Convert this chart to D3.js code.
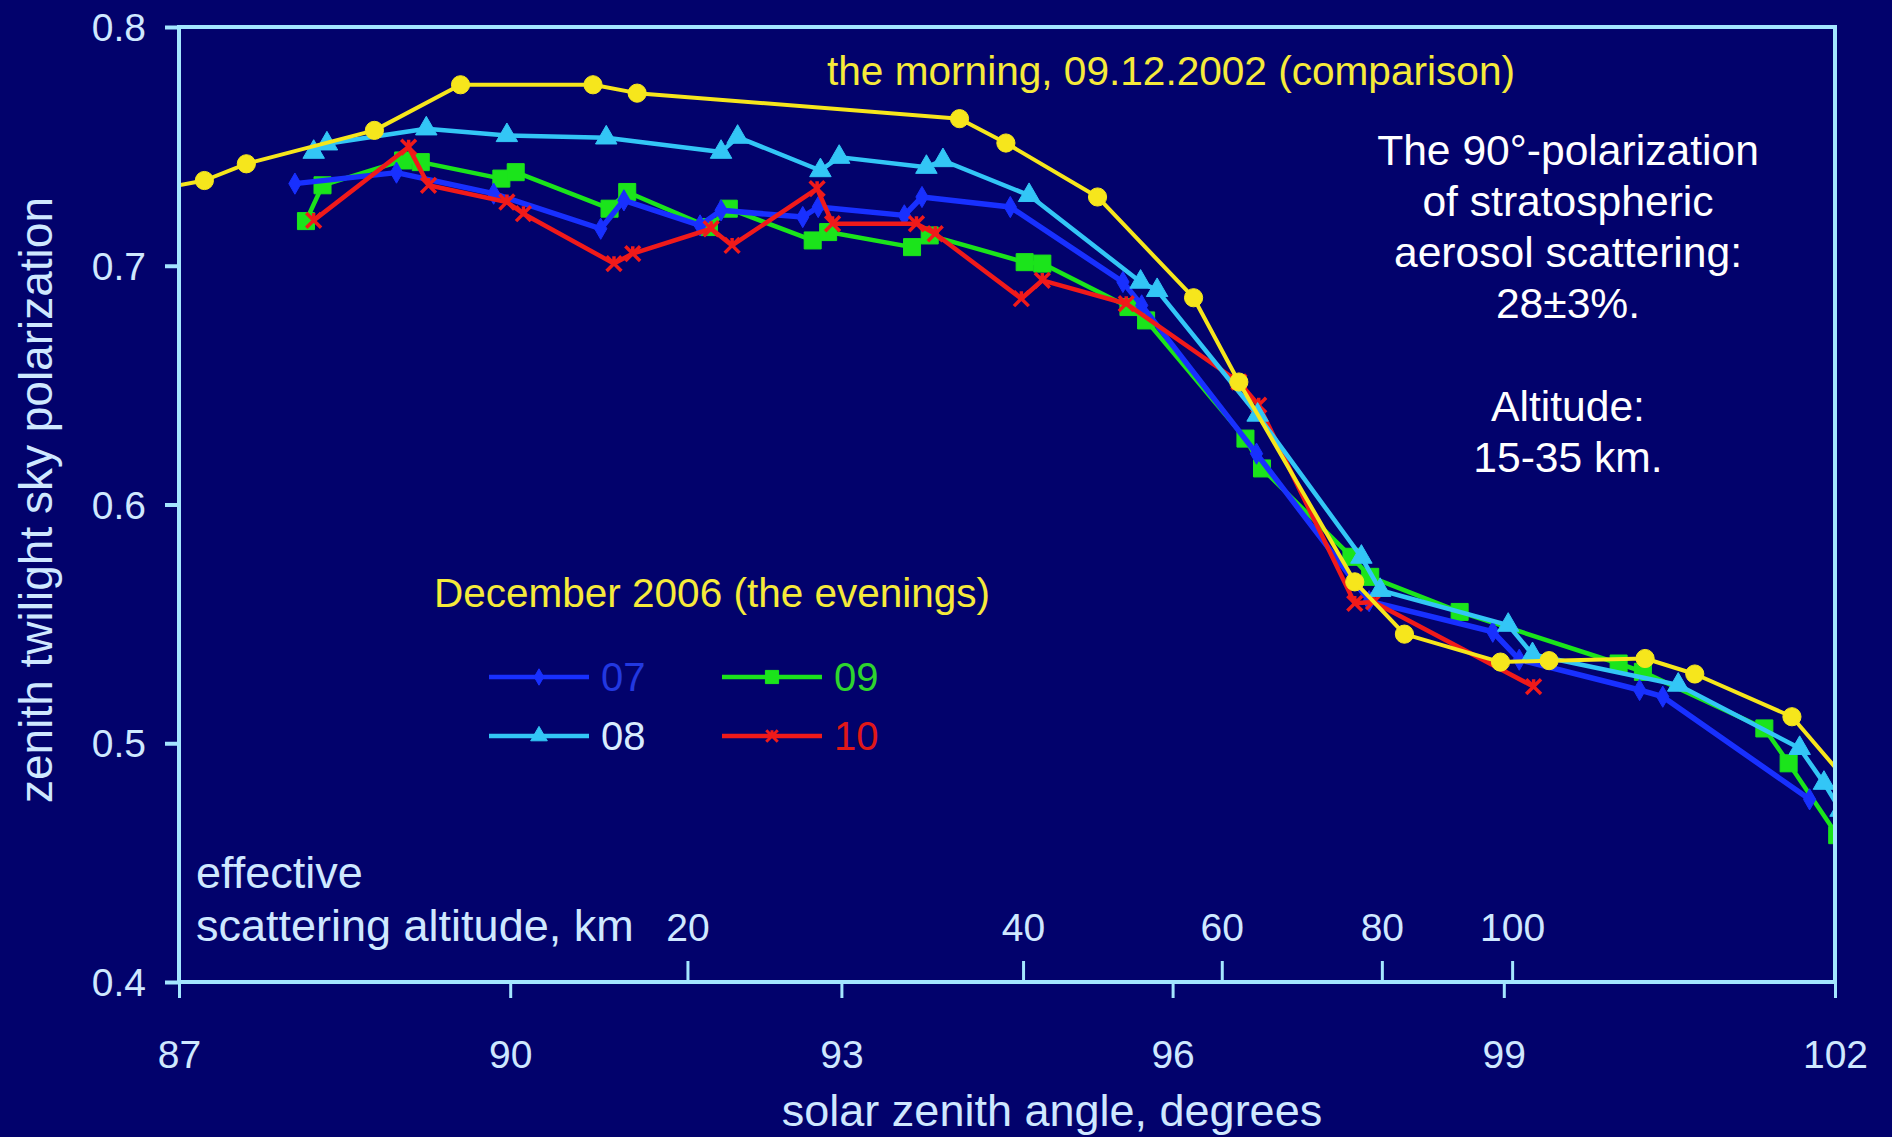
<!DOCTYPE html>
<html>
  <head>
    <meta charset="UTF-8">
    <script type="text/javascript" src="https://cdn.jsdelivr.net/npm/d3@7"></script>
    <style>
      body { margin: 0; background: #02026c; }
      svg { display: block; }
      text { font-family: "Liberation Sans", Arial, sans-serif; }
    </style>
  </head>
  <body>
    <div id="chart"></div>
    <script>
// morning 09.12.2002 (comparison), yellow
var mornX = [86.85, 87.23, 87.61, 88.77, 89.55, 90.75, 91.15, 94.07, 94.49, 95.32, 96.19, 96.60,
             97.65, 98.10, 98.97, 99.41, 100.28, 100.73, 101.61, 102.1];
var mornY = [0.7324, 0.7357, 0.7427, 0.7567, 0.7758, 0.7758, 0.7723, 0.7616, 0.7514, 0.7288, 0.6866, 0.6513,
             0.5676, 0.5457, 0.5340, 0.5346, 0.5355, 0.5290, 0.5111, 0.4846];

// December 2006 evenings
var ev07X = [88.05, 88.97, 89.85, 90.82, 91.03, 91.72, 91.91, 92.65, 92.79, 93.57, 93.73, 94.53,
             95.55, 95.72, 96.76, 97.78, 98.90, 99.14, 100.23, 100.44, 101.77];
var ev07Y = [0.7344, 0.7390, 0.7302, 0.7155, 0.7274, 0.7169, 0.7232, 0.7204, 0.7246, 0.7211, 0.7288, 0.7246,
             0.6932, 0.6834, 0.6213, 0.5595, 0.5467, 0.5350, 0.5223, 0.5195, 0.4765];

var ev08X = [88.22, 88.34, 89.24, 89.97, 90.87, 91.91, 92.06, 92.81, 92.98, 93.77, 93.92, 94.70,
             95.71, 95.86, 96.77, 97.71, 97.88, 99.04, 99.26, 100.58, 101.68, 101.90, 102.05];
var ev08Y = [0.7476, 0.7511, 0.7574, 0.7546, 0.7536, 0.7476, 0.7539, 0.7399, 0.7455, 0.7413, 0.7441, 0.7295,
             0.6932, 0.6897, 0.6375, 0.5780, 0.5641, 0.5495, 0.5372, 0.5244, 0.4979, 0.4833, 0.4720];

var ev09X = [88.15, 88.30, 89.03, 89.19, 89.92, 90.05, 90.90, 91.06, 91.80, 91.98, 92.74, 92.88,
             93.64, 93.80, 94.66, 94.82, 95.60, 95.76, 96.66, 96.81, 97.62, 97.79, 98.60, 100.04,
             100.26, 101.36, 101.58, 102.02];
var ev09Y = [0.7187, 0.7337, 0.7441, 0.7434, 0.7365, 0.7392, 0.7239, 0.7309, 0.7162, 0.7239, 0.7106, 0.7141,
             0.7078, 0.7127, 0.7015, 0.7009, 0.6827, 0.6771, 0.6276, 0.6151, 0.5781, 0.5697, 0.5550, 0.5334,
             0.5299, 0.5062, 0.4916, 0.4615];

var ev10X = [88.22, 89.08, 89.26, 89.97, 90.12, 90.94, 91.11, 91.82, 92.01, 92.78, 92.92, 93.68,
             93.85, 94.63, 94.82, 95.58, 96.60, 96.78, 97.65, 97.82, 99.27];
var ev10Y = [0.7190, 0.7497, 0.7337, 0.7267, 0.7218, 0.7009, 0.7051, 0.7155, 0.7085, 0.7323, 0.7176, 0.7176,
             0.7134, 0.6862, 0.6939, 0.6841, 0.6513, 0.6416, 0.5586, 0.5592, 0.5237];

// axes
var xTicks = [87, 90, 93, 96, 99, 102];
var yTicks = [0.4, 0.5, 0.6, 0.7, 0.8];
// effective scattering altitude (km) and where it falls on the angle axis
var altKm = [20, 40, 60, 80, 100];
var altAngle = [91.61, 94.65, 96.45, 97.90, 99.08];

var noteLines = ["The 90\u00b0-polarization", "of stratospheric", "aerosol scattering:", "28\u00b13%.", "", "Altitude:", "15-35 km."];

var width = 1892, height = 1137;
var margin = {top: 27, right: 57, bottom: 155, left: 179};
var w = width - margin.left - margin.right;
var h = height - margin.top - margin.bottom;
var axisColor = "#a4e6ff";
var textColor = "#cfe8ff";

var svg = d3.select("#chart").append("svg")
    .attr("width", width)
    .attr("height", height);

svg.append("rect")
    .attr("width", width)
    .attr("height", height)
    .attr("fill", "#02026c");

var x = d3.scaleLinear().domain([87, 102]).range([0, w]);
var y = d3.scaleLinear().domain([0.4, 0.8]).range([h, 0]);

var g = svg.append("g").attr("transform", "translate(" + margin.left + "," + margin.top + ")");

g.append("clipPath").attr("id", "plotclip")
  .append("rect")
    .attr("width", w)
    .attr("height", h);

// x-shaped marker for the 10th
var xMark = {
  draw: function (ctx, size) {
    var r = Math.sqrt(size) / 2;
    ctx.moveTo(-r, -r); ctx.lineTo(r, r);
    ctx.moveTo(r, -r); ctx.lineTo(-r, r);
    ctx.moveTo(0, -r); ctx.lineTo(0, -r * 0.2);
  }
};

var series = [
  {name: "09", xs: ev09X, ys: ev09Y, color: "#1be41b", sym: d3.symbolSquare, size: 290, width: 4.5, fillMark: true, text: "#2ed42e"},
  {name: "07", xs: ev07X, ys: ev07Y, color: "#1830ff", sym: d3.symbolDiamond, size: 130, width: 5.5, fillMark: true, text: "#2238e0"},
  {name: "10", xs: ev10X, ys: ev10Y, color: "#f01a1a", sym: xMark, size: 220, width: 4.5, fillMark: false, text: "#e01818"},
  {name: "08", xs: ev08X, ys: ev08Y, color: "#33c6f6", sym: d3.symbolTriangle, size: 200, width: 4.5, fillMark: true, text: "#d8ecff"},
  {name: "morning", xs: mornX, ys: mornY, color: "#f6e61c", sym: d3.symbolCircle, size: 260, width: 4, fillMark: true}
];

var line = d3.line()
    .x(function (d) { return x(d[0]); })
    .y(function (d) { return y(d[1]); });

var plot = g.append("g").attr("clip-path", "url(#plotclip)");

series.forEach(function (s) {
  var pts = s.xs.map(function (v, i) { return [v, s.ys[i]]; });
  plot.append("path")
      .datum(pts)
      .attr("fill", "none")
      .attr("stroke", s.color)
      .attr("stroke-width", s.width)
      .attr("stroke-linejoin", "round")
      .attr("d", line);
  plot.selectAll(null)
      .data(pts)
    .enter().append("path")
      .attr("transform", function (d) { return "translate(" + x(d[0]) + "," + y(d[1]) + ")"; })
      .attr("d", d3.symbol().type(s.sym).size(s.size))
      .attr("fill", s.fillMark ? s.color : "none")
      .attr("stroke", s.color)
      .attr("stroke-width", s.fillMark ? 1 : 3.5);
});

// frame
g.append("rect")
    .attr("width", w)
    .attr("height", h)
    .attr("fill", "none")
    .attr("stroke", axisColor)
    .attr("stroke-width", 4);

// left axis
var yAxis = g.append("g")
    .call(d3.axisLeft(y).tickValues(yTicks).tickFormat(d3.format(".1f")).tickSize(14).tickPadding(19));
yAxis.select(".domain").remove();
yAxis.selectAll("line").attr("stroke", axisColor).attr("stroke-width", 4);
yAxis.selectAll("text").attr("fill", textColor).attr("font-size", "39px").attr("dy", "0.35em");

// bottom axis
var xAxis = g.append("g")
    .attr("transform", "translate(0," + h + ")")
    .call(d3.axisBottom(x).tickValues(xTicks).tickSize(16).tickPadding(42));
xAxis.select(".domain").remove();
xAxis.selectAll("line").attr("stroke", axisColor).attr("stroke-width", 3);
xAxis.selectAll("text").attr("fill", textColor).attr("font-size", "39px");

// altitude ticks, pointing up from the bottom axis
var altAxis = g.append("g").attr("transform", "translate(0," + h + ")");
altAxis.selectAll("line")
    .data(altAngle)
  .enter().append("line")
    .attr("x1", function (d) { return x(d); })
    .attr("x2", function (d) { return x(d); })
    .attr("y1", 0)
    .attr("y2", -21)
    .attr("stroke", axisColor)
    .attr("stroke-width", 3);
altAxis.selectAll("text")
    .data(altAngle)
  .enter().append("text")
    .attr("x", function (d) { return x(d); })
    .attr("y", -41)
    .attr("text-anchor", "middle")
    .attr("fill", textColor)
    .attr("font-size", "39px")
    .text(function (d, i) { return altKm[i]; });

g.append("text")
    .attr("x", 17)
    .attr("y", h - 94)
    .attr("fill", textColor)
    .attr("font-size", "45px")
    .text("effective");
g.append("text")
    .attr("x", 17)
    .attr("y", h - 41)
    .attr("fill", textColor)
    .attr("font-size", "45px")
    .text("scattering altitude, km");

// axis titles
svg.append("text")
    .attr("x", 1052)
    .attr("y", 1126)
    .attr("text-anchor", "middle")
    .attr("fill", textColor)
    .attr("font-size", "45px")
    .text("solar zenith angle, degrees");

svg.append("text")
    .attr("transform", "translate(52,500) rotate(-90)")
    .attr("text-anchor", "middle")
    .attr("fill", textColor)
    .attr("font-size", "46px")
    .text("zenith twilight sky polarization");

// titles inside the plot
svg.append("text")
    .attr("x", 827)
    .attr("y", 85)
    .attr("fill", "#f6ea3a")
    .attr("font-size", "40.6px")
    .text("the morning, 09.12.2002 (comparison)");

svg.append("text")
    .attr("x", 434)
    .attr("y", 607)
    .attr("fill", "#f6ea3a")
    .attr("font-size", "40.5px")
    .text("December 2006 (the evenings)");

// legend
var legendPos = {"07": [489, 677], "09": [722, 677], "08": [489, 736], "10": [722, 736]};
series.forEach(function (s) {
  if (!legendPos[s.name]) return;
  var p = legendPos[s.name];
  var lg = svg.append("g").attr("transform", "translate(" + p[0] + "," + p[1] + ")");
  lg.append("line")
      .attr("x1", 0).attr("x2", 100)
      .attr("stroke", s.color)
      .attr("stroke-width", 4.5);
  lg.append("path")
      .attr("transform", "translate(50,0)")
      .attr("d", d3.symbol().type(s.sym).size(s.size * 0.6))
      .attr("fill", s.fillMark ? s.color : "none")
      .attr("stroke", s.color)
      .attr("stroke-width", s.fillMark ? 1 : 3);
  lg.append("text")
      .attr("x", 112)
      .attr("dy", "0.36em")
      .attr("fill", s.text)
      .attr("font-size", "40px")
      .text(s.name);
});

// note on the right
svg.append("g").selectAll("text")
    .data(noteLines)
  .enter().append("text")
    .attr("x", 1568)
    .attr("y", function (d, i) { return 165 + i * 51.1; })
    .attr("text-anchor", "middle")
    .attr("fill", "#ffffff")
    .attr("font-size", "42.6px")
    .text(function (d) { return d; });
    </script>
  </body>
</html>
